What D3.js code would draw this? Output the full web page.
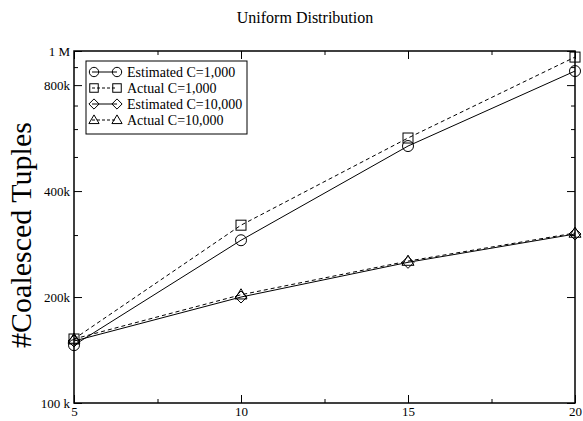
<!DOCTYPE html>
<html>
<head>
<meta charset="utf-8">
<script src="https://cdn.jsdelivr.net/npm/d3@7"></script>
<style>
  html, body { margin: 0; padding: 0; background: #fff; }
  svg { display: block; }
  text { font-family: "Liberation Serif", "Times New Roman", serif; fill: #000; }
</style>
</head>
<body>
<svg id="chart" width="583" height="421"></svg>
<script>
// Number of attributes (x) and coalesced tuple counts per series
const xValues = [5, 10, 15, 20];
const estimatedC1000 = [146000, 290000, 537000, 877000];
const actualC1000 = [152000, 320000, 566000, 961000];
const estimatedC10000 = [150000, 200000, 251000, 302000];
const actualC10000 = [152000, 203000, 253000, 304000];

const seriesNames = ["Estimated C=1,000", "Actual C=1,000", "Estimated C=10,000", "Actual C=10,000"];
const seriesValues = [estimatedC1000, actualC1000, estimatedC10000, actualC10000];
const seriesMarkers = ["circle", "square", "diamond", "triangle"];
const seriesDashed = [false, true, false, true];

const xTickValues = [5, 10, 15, 20];
const xMinorTicks = [7.5, 12.5, 17.5];
const yTickValues = [100000, 200000, 400000, 800000, 1000000];
const yTickLabels = ["100 k", "200k", "400k", "800k", "1 M"];
const yMinorTicks = [300000, 500000, 600000, 700000, 900000];

const serif = "'Liberation Serif', 'Times New Roman', serif";
const svg = d3.select("#chart");
const plotLeft = 74, plotRight = 575, plotTop = 51, plotBottom = 403;

const x = d3.scaleLinear().domain([5, 20]).range([plotLeft, plotRight]);
const y = d3.scaleLog().domain([100000, 1000000]).range([plotBottom, plotTop]);

// Title
svg.append("text")
  .attr("x", 305).attr("y", 23)
  .attr("text-anchor", "middle")
  .style("font-family", serif)
  .style("font-size", "16px")
  .text("Uniform Distribution");

// Y-axis title
svg.append("text")
  .attr("transform", `translate(31,235) rotate(-90)`)
  .attr("text-anchor", "middle")
  .style("font-family", serif)
  .style("font-size", "30px")
  .text("#Coalesced Tuples");

const frame = svg.append("g");

// Bottom axis: labels below, major/minor ticks pointing inward
const xAxisBottom = frame.append("g").attr("transform", `translate(0,${plotBottom})`)
  .call(d3.axisBottom(x).tickValues(xTickValues).tickFormat(d3.format("d")).tickSizeInner(-8).tickSizeOuter(0));
frame.append("g").attr("transform", `translate(0,${plotBottom})`)
  .call(d3.axisBottom(x).tickValues(xMinorTicks).tickFormat("").tickSizeInner(-4).tickSizeOuter(0));
// Top mirrored ticks
frame.append("g").attr("transform", `translate(0,${plotTop})`)
  .call(d3.axisTop(x).tickValues(xTickValues).tickFormat("").tickSizeInner(-8).tickSizeOuter(0));
frame.append("g").attr("transform", `translate(0,${plotTop})`)
  .call(d3.axisTop(x).tickValues(xMinorTicks).tickFormat("").tickSizeInner(-4).tickSizeOuter(0));

// Left axis with labels
const yAxisLeft = frame.append("g").attr("transform", `translate(${plotLeft},0)`)
  .call(d3.axisLeft(y).tickValues(yTickValues).tickFormat((d, i) => yTickLabels[i]).tickSizeInner(-8).tickSizeOuter(0));
frame.append("g").attr("transform", `translate(${plotLeft},0)`)
  .call(d3.axisLeft(y).tickValues(yMinorTicks).tickFormat("").tickSizeInner(-4).tickSizeOuter(0));
// Right mirrored ticks
frame.append("g").attr("transform", `translate(${plotRight},0)`)
  .call(d3.axisRight(y).tickValues(yTickValues).tickFormat("").tickSizeInner(-8).tickSizeOuter(0));
frame.append("g").attr("transform", `translate(${plotRight},0)`)
  .call(d3.axisRight(y).tickValues(yMinorTicks).tickFormat("").tickSizeInner(-4).tickSizeOuter(0));

frame.selectAll(".domain").remove();
frame.selectAll(".tick line").attr("stroke", "#000").attr("stroke-width", 1);
frame.selectAll(".tick text").style("font-size", "13px").style("font-family", serif).attr("fill", "#000");
// Labels sit just outside the frame
yAxisLeft.selectAll(".tick text").attr("x", -4);
xAxisBottom.selectAll(".tick text").attr("y", 4).attr("dy", "0.71em");

// Plot frame
svg.append("rect")
  .attr("x", plotLeft).attr("y", plotTop)
  .attr("width", plotRight - plotLeft).attr("height", plotBottom - plotTop)
  .attr("fill", "none").attr("stroke", "#000").attr("stroke-width", 1.5);

// Marker drawing
function drawMarker(g, type, cx, cy, s) {
  const sz = s || 1;
  if (type === "circle") {
    g.append("circle").attr("cx", cx).attr("cy", cy).attr("r", 5.5 * sz)
      .attr("fill", "none").attr("stroke", "#000").attr("stroke-width", 1);
  } else if (type === "square") {
    g.append("rect").attr("x", cx - 5 * sz).attr("y", cy - 5 * sz)
      .attr("width", 10 * sz).attr("height", 10 * sz)
      .attr("fill", "none").attr("stroke", "#000").attr("stroke-width", 1);
  } else if (type === "diamond") {
    const r = 6 * sz;
    g.append("path").attr("d", `M${cx},${cy - r}L${cx + r},${cy}L${cx},${cy + r}L${cx - r},${cy}Z`)
      .attr("fill", "none").attr("stroke", "#000").attr("stroke-width", 1);
  } else if (type === "triangle") {
    const r = 6 * sz;
    g.append("path").attr("d", `M${cx},${cy - r}L${cx + r},${cy + r * 0.7}L${cx - r},${cy + r * 0.7}Z`)
      .attr("fill", "none").attr("stroke", "#000").attr("stroke-width", 1);
  }
}

const line = d3.line().x(d => x(d[0])).y(d => y(d[1]));
const plot = svg.append("g");

seriesValues.forEach((vals, i) => {
  const pts = xValues.map((xv, j) => [xv, vals[j]]);
  plot.append("path")
    .attr("d", line(pts))
    .attr("fill", "none")
    .attr("stroke", "#000")
    .attr("stroke-width", 1)
    .attr("stroke-dasharray", seriesDashed[i] ? "4,3" : null);
  pts.forEach(p => drawMarker(plot, seriesMarkers[i], x(p[0]), y(p[1])));
});

// Legend
const legend = svg.append("g");
legend.append("rect")
  .attr("x", 86).attr("y", 61).attr("width", 161).attr("height", 73)
  .attr("fill", "#fff").attr("stroke", "#000").attr("stroke-width", 1);
seriesNames.forEach((name, i) => {
  const ly = 72 + i * 16;
  legend.append("line")
    .attr("x1", 92).attr("x2", 117).attr("y1", ly).attr("y2", ly)
    .attr("stroke", "#000").attr("stroke-width", 1)
    .attr("stroke-dasharray", seriesDashed[i] ? "3,2" : null);
  drawMarker(legend, seriesMarkers[i], 94, ly, 0.85);
  drawMarker(legend, seriesMarkers[i], 117, ly, 0.85);
  legend.append("text")
    .attr("x", 127).attr("y", ly).attr("dy", "0.35em")
    .style("font-family", serif)
    .style("font-size", "14px")
    .text(name);
});
</script>
</body>
</html>
